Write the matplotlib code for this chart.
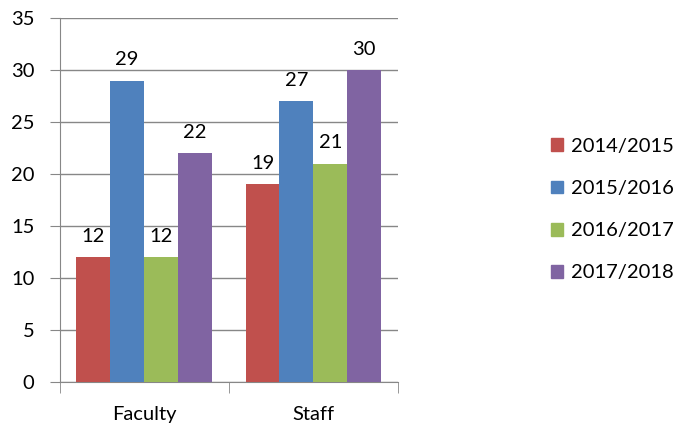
import matplotlib
matplotlib.use('Agg')
import matplotlib.pyplot as plt
import matplotlib.patches as mpatches
import numpy as np

plt.rcParams['font.family'] = ['Lato', 'DejaVu Sans']

categories = ['Faculty', 'Staff']
years = ['2014/2015', '2015/2016', '2016/2017', '2017/2018']
values = {
    '2014/2015': [12, 19],
    '2015/2016': [29, 27],
    '2016/2017': [12, 21],
    '2017/2018': [22, 30],
}
colors = ['#C0504D', '#4F81BD', '#9BBB59', '#8064A2']
FS = 14.5

fig = plt.figure(figsize=(6.74, 4.28), dpi=100)
ax = fig.add_axes([0.0883, 0.1075, 0.502, 0.85])

x = np.arange(len(categories))
w = 0.2
for i, (yr, col) in enumerate(zip(years, colors)):
    pos = x - 0.3 + i * w
    bars = ax.bar(pos, values[yr], w, color=col, label=yr, zorder=3)
    for b, v in zip(bars, values[yr]):
        ax.annotate(str(v), (b.get_x() + b.get_width() / 2, v), xytext=(0, 9),
                    textcoords='offset points', ha='center', va='bottom', fontsize=FS)

ax.set_xlim(-0.5, 1.5)
ax.set_ylim(0, 35)
ax.set_yticks(range(0, 36, 5))
ax.set_xticks(x)
ax.set_xticklabels(categories)
ax.set_xticks([-0.5, 0.5, 1.5], minor=True)

grid_c = '#878787'
ax.yaxis.grid(True, color=grid_c, linewidth=1, zorder=0)
ax.set_axisbelow(True)
for s in ['top', 'right']:
    ax.spines[s].set_visible(False)
ax.spines['left'].set_color(grid_c)
ax.spines['bottom'].set_color(grid_c)
ax.tick_params(axis='y', length=7, color=grid_c, pad=11, labelsize=FS)
ax.tick_params(axis='x', which='major', length=0, pad=17, labelsize=FS)
ax.tick_params(axis='x', which='minor', length=8, color=grid_c)

handles = [mpatches.Patch(color=c) for c in colors]
fig.legend(handles, years, loc='center left', bbox_to_anchor=(0.805, 0.51),
           frameon=False, fontsize=FS, handlelength=0.6, handleheight=0.6,
           handletextpad=0.4, labelspacing=1.25, borderaxespad=0)

plt.savefig('out.png', dpi=100)
